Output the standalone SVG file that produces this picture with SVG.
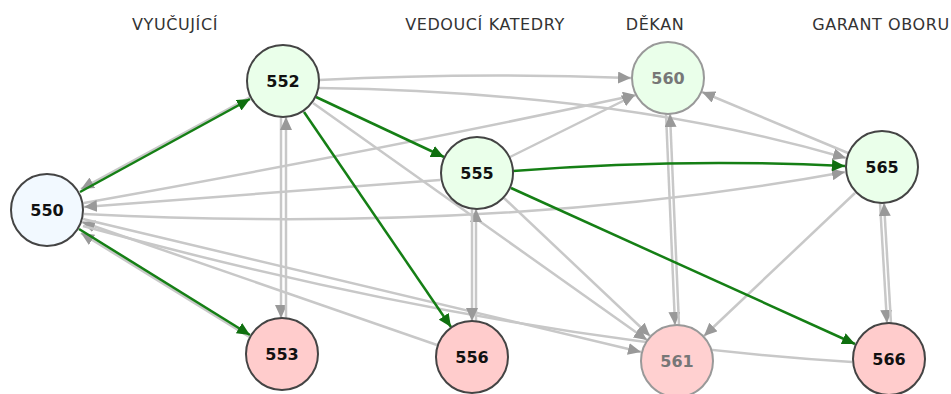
<svg xmlns="http://www.w3.org/2000/svg" width="951" height="394" viewBox="0 0 951 394">
<style>
.hdr{font-family:"DejaVu Sans",Verdana,sans-serif;font-size:16px;letter-spacing:0.6px;fill:#333;text-anchor:middle}
.e{fill:none;stroke:#c8c8c8;stroke-width:2.5}
.eg{fill:none;stroke:#157f15;stroke-width:2.5}
.n circle{stroke:#444;stroke-width:2}
.n text{font-family:"DejaVu Sans",Verdana,sans-serif;font-size:16px;font-weight:bold;fill:#111;text-anchor:middle;dominant-baseline:central}
.f circle{stroke:#999}
.f text{fill:#777}
</style>
<defs>
<marker id="ag" markerUnits="userSpaceOnUse" markerWidth="14" markerHeight="12" refX="13" refY="6" orient="auto-start-reverse"><path d="M0,0 L13,6 L0,12 z" fill="#999"/></marker>
<marker id="aG" markerUnits="userSpaceOnUse" markerWidth="14" markerHeight="12" refX="13" refY="6" orient="auto"><path d="M0,0 L13,6 L0,12 z" fill="#0f6f0f"/></marker>
</defs>
<text class="hdr" x="175" y="30">VYUČUJÍCÍ</text>
<text class="hdr" x="485" y="30">VEDOUCÍ KATEDRY</text>
<text class="hdr" x="655" y="30">DĚKAN</text>
<text class="hdr" x="881" y="30">GARANT OBORU</text>
<g id="connectors">
<path class="e" d="M252,96 L81,189" marker-end="url(#ag)"/>
<path class="e" d="M251,338 L81,233" marker-end="url(#ag)"/>
<path class="e" d="M84,203 Q380,150 636,95" marker-end="url(#ag)"/>
<path class="e" d="M84,207 L440,180" marker-start="url(#ag)"/>
<path class="e" d="M84,214 Q500,235 845,172" marker-end="url(#ag)"/>
<path class="e" d="M82,222 L437,345" marker-start="url(#ag)"/>
<path class="e" d="M83,219 L641,352" marker-end="url(#ag)"/>
<path class="e" d="M83,226 Q500,340 852,362"/>
<path class="e" d="M319,80 Q475,72 631,78" marker-end="url(#ag)"/>
<path class="e" d="M319,88 Q620,92 846,158" marker-end="url(#ag)"/>
<path class="e" d="M313,103 L647,340" marker-end="url(#ag)"/>
<path class="e" d="M281,117 L281,318" marker-end="url(#ag)"/>
<path class="e" d="M286,318 L286,117" marker-end="url(#ag)"/>
<path class="e" d="M476,321 L476,209" marker-end="url(#ag)"/>
<path class="e" d="M472,209 L472,321" marker-end="url(#ag)"/>
<path class="e" d="M666,114 L675,325" marker-end="url(#ag)"/>
<path class="e" d="M679,325 L670,114" marker-end="url(#ag)"/>
<path class="e" d="M880,203 L887,323" marker-end="url(#ag)"/>
<path class="e" d="M891,323 L884,203" marker-end="url(#ag)"/>
<path class="e" d="M510,157 L635,95" marker-end="url(#ag)"/>
<path class="e" d="M504,198 L650,336" marker-end="url(#ag)"/>
<path class="e" d="M848,153 L702,92" marker-end="url(#ag)"/>
<path class="e" d="M855,193 L704,336" marker-end="url(#ag)"/>
<path class="eg" d="M80,192 L250,99" marker-end="url(#aG)"/>
<path class="eg" d="M79,229 L250,335" marker-end="url(#aG)"/>
<path class="eg" d="M316,97 L444,157" marker-end="url(#aG)"/>
<path class="eg" d="M304,112 L451,327" marker-end="url(#aG)"/>
<path class="eg" d="M513,171 Q680,158 845,166" marker-end="url(#aG)"/>
<path class="eg" d="M511,188 L855,344" marker-end="url(#aG)"/>
</g>
<g id="n550" class="n"><circle cx="47" cy="210" r="36" fill="#f2f9ff"/><text x="47" y="210">550</text></g>
<g id="n552" class="n"><circle cx="283" cy="81" r="36" fill="#eaffea"/><text x="283" y="81">552</text></g>
<g id="n553" class="n"><circle cx="282" cy="354" r="36" fill="#ffcccc"/><text x="282" y="354">553</text></g>
<g id="n555" class="n"><circle cx="477" cy="173" r="36" fill="#eaffea"/><text x="477" y="173">555</text></g>
<g id="n556" class="n"><circle cx="472" cy="357" r="36" fill="#ffcccc"/><text x="472" y="357">556</text></g>
<g id="n560" class="n f"><circle cx="668" cy="78" r="36" fill="#eaffea"/><text x="668" y="78">560</text></g>
<g id="n561" class="n f"><circle cx="677" cy="361" r="36" fill="#ffd0d0"/><text x="677" y="361">561</text></g>
<g id="n565" class="n"><circle cx="882" cy="167" r="36" fill="#eaffea"/><text x="882" y="167">565</text></g>
<g id="n566" class="n"><circle cx="889" cy="359" r="36" fill="#ffcccc"/><text x="889" y="359">566</text></g>
</svg>
